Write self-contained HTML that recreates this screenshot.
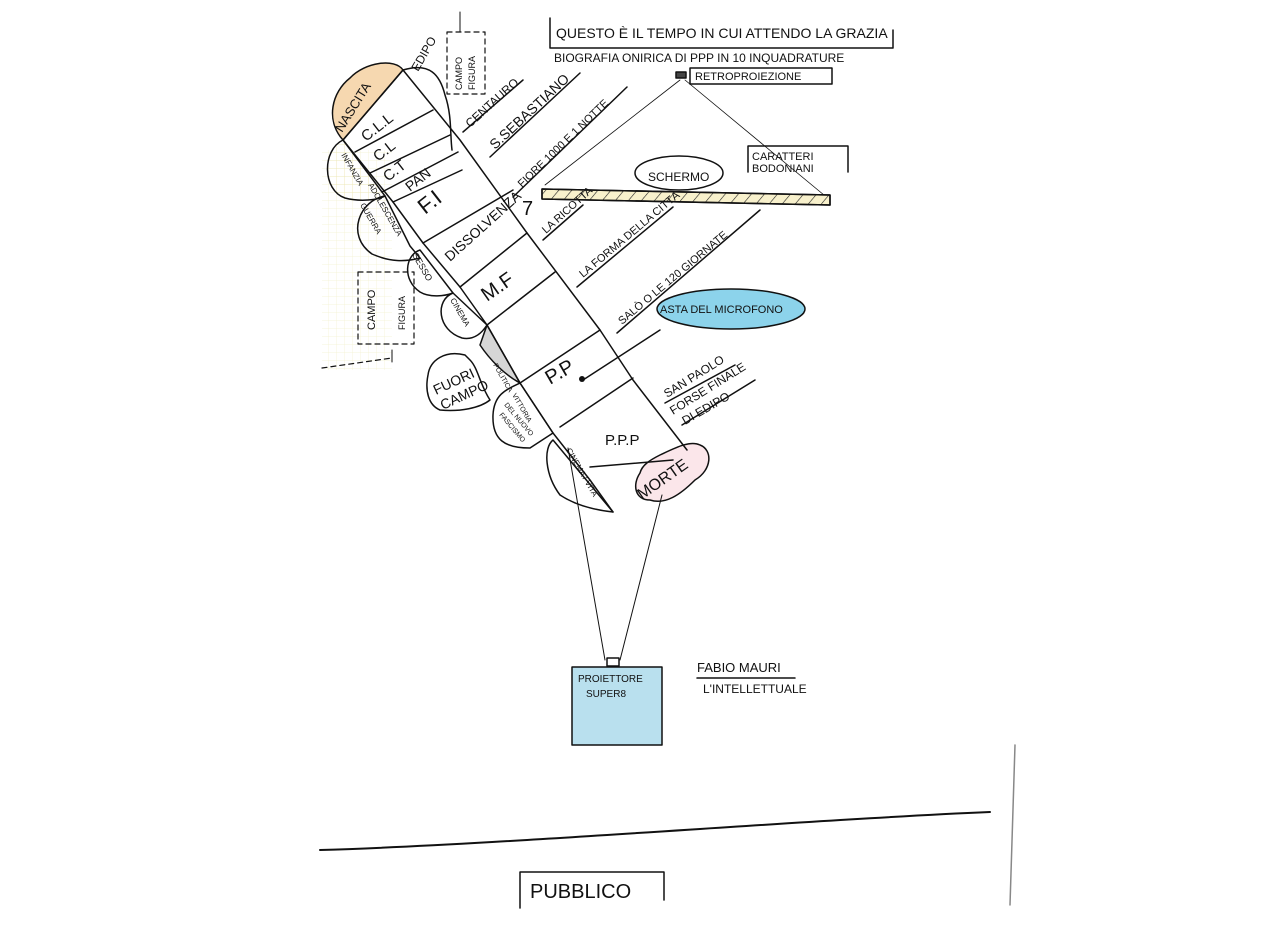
<!DOCTYPE html>
<html><head><meta charset="utf-8"><style>
html,body{margin:0;padding:0;background:#fff;}
svg{display:block}
text{font-family:"Liberation Sans",sans-serif;fill:#111;}
</style></head><body>
<svg width="1280" height="926" viewBox="0 0 1280 926" xmlns="http://www.w3.org/2000/svg">
<defs>
<pattern id="grid" width="8" height="8" patternUnits="userSpaceOnUse"><path d="M8 0H0V8" fill="none" stroke="#ece6b0" stroke-width="0.7"/></pattern>
<pattern id="hatch" width="10" height="10" patternUnits="userSpaceOnUse" patternTransform="rotate(40)"><line x1="0" y1="0" x2="0" y2="10" stroke="#222" stroke-width="1.2"/></pattern>
</defs>
<rect width="1280" height="926" fill="#fff"/>
<rect x="322" y="150" width="70" height="220" fill="url(#grid)" opacity="0.6"/>

<g fill="none" stroke="#111" stroke-width="1.5" stroke-linecap="round" stroke-linejoin="round">
<!-- title box -->
<path d="M550 18 V48 H893 V30"/>
<rect x="690" y="68" width="142" height="16"/>
<rect x="676" y="72" width="10" height="6" fill="#444"/>
<path d="M680 80 L545 185" stroke-width="0.8"/>
<path d="M685 80 L830 200" stroke-width="0.8"/>
<path d="M748 146 V172 M748 146 H848 V172"/>
<ellipse cx="679" cy="173" rx="44" ry="17"/>
<path d="M542 189 L830 195 L830 205 L542 199 Z" fill="#f8f1cc"/>
<path d="M542 189 L830 195 L830 205 L542 199 Z" fill="url(#hatch)"/>

<!-- clouds left -->
<path d="M343 140 C325 120 332 92 350 78 C365 62 395 58 403 70 Z" fill="#f2c88e" fill-opacity="0.7"/>
<path d="M343 140 C322 150 322 190 345 198 C360 202 378 200 385 196 Z" fill="url(#grid)"/>
<path d="M385 196 C360 200 345 235 372 254 C390 262 405 262 420 258 L410 246 Z"/>
<path d="M420 250 C405 255 402 280 420 292 C430 298 445 296 453 293 Z"/>
<path d="M453 293 C435 300 437 330 462 338 C472 340 480 336 487 325 Z"/>
<path d="M487 325 L520 383 C505 375 490 360 480 345 Z" fill="#333" fill-opacity="0.2"/>
<path d="M465 355 C445 350 430 360 428 375 C425 390 428 405 440 410 C460 412 480 408 490 400 C480 385 478 368 470 360 Z"/>
<path d="M520 383 C505 390 494 395 493 415 C492 440 505 448 530 448 L553 433 Z"/>
<path d="M553 440 C543 448 545 475 560 495 C575 505 595 510 613 512 Z"/>
<path d="M640 473 C632 485 635 500 650 500 C665 505 680 495 695 480 C712 470 713 450 700 445 C690 440 675 448 660 455 C650 460 642 465 640 473 Z" fill="#fbe6ea"/>
<!-- right bracket -->
<path d="M403 70 C430 62 440 75 445 95 C452 115 450 135 452 150"/>
<!-- band edges -->
<path d="M343 140 L403 70"/>
<path d="M343 140 L393 202 L423 243 L460 287 L487 325 L520 383 L553 433 L590 480 L613 512"/>
<path d="M403 70 L460 140 L527 233 L600 330 L633 380 L687 450"/>
<!-- dividers -->
<path d="M355 152 L433 110"/>
<path d="M370 173 L450 135"/>
<path d="M382 192 L458 152"/>
<path d="M393 202 L462 170"/>
<path d="M423 243 L513 190"/>
<path d="M460 287 L527 233"/>
<path d="M487 325 L555 272"/>
<path d="M520 383 L600 330"/>
<path d="M560 427 L633 378"/>
<path d="M590 467 L673 460"/>
<!-- underlines -->
<path d="M463 132 L523 80"/>
<path d="M490 157 L580 73"/>
<path d="M513 197 L627 87"/>
<path d="M543 240 L583 205"/>
<path d="M577 287 L673 207"/>
<path d="M617 333 L760 210"/>
<path d="M583 380 L660 330"/>
<path d="M665 403 L735 365"/>
<path d="M682 425 L755 380"/>
<!-- dashed campo figura boxes -->
<g stroke-dasharray="5 4" stroke-width="1.2">
<rect x="447" y="32" width="38" height="62"/>
<rect x="358" y="272" width="56" height="72"/>
<path d="M322 368 L392 358"/>
</g>
<path d="M460 12 V32 M392 350 V362" stroke-width="1"/>
<!-- cone -->
<path d="M568 448 L605 660" stroke-width="1"/>
<path d="M662 495 L620 660" stroke-width="1"/>
<rect x="607" y="658" width="12" height="8"/>
<ellipse cx="731" cy="309" rx="74" ry="20" fill="#6fc8e6" fill-opacity="0.8"/>
<rect x="572" y="667" width="90" height="78" fill="#b9e0ee"/>
<path d="M320 850 C500 845 800 820 990 812" stroke-width="2"/>
<path d="M1015 745 L1010 905" stroke-width="1.5" stroke="#888"/>
<path d="M520 872 V908 M520 872 H664 V900"/>
<path d="M697 678 H795"/>
</g>
<circle cx="582" cy="379" r="3" fill="#111"/>

<g font-size="13">
<text x="556" y="38" font-size="14">QUESTO È IL TEMPO IN CUI ATTENDO LA GRAZIA</text>
<text x="554" y="62" font-size="12">BIOGRAFIA ONIRICA DI PPP IN 10 INQUADRATURE</text>
<text x="695" y="80" font-size="11">RETROPROIEZIONE</text>
<text x="752" y="160" font-size="11">CARATTERI</text>
<text x="752" y="172" font-size="11">BODONIANI</text>
<text x="648" y="181" font-size="12">SCHERMO</text>
<text x="660" y="313" font-size="11">ASTA DEL MICROFONO</text>
<text x="697" y="672" font-size="13">FABIO MAURI</text>
<text x="703" y="693" font-size="12">L'INTELLETTUALE</text>
<text x="578" y="682" font-size="10" fill="#123">PROIETTORE</text>
<text x="586" y="697" font-size="10" fill="#123">SUPER8</text>
<text x="530" y="898" font-size="20" font-family="Liberation Mono">PUBBLICO</text>
</g>
<g font-size="12">
<text transform="translate(470,128) rotate(-42)">CENTAURO</text>
<text transform="translate(495,150) rotate(-43)" font-size="14">S.SEBASTIANO</text>
<text transform="translate(522,188) rotate(-44)" font-size="11">FIORE 1000 E 1 NOTTE</text>
<text transform="translate(546,234) rotate(-42)" font-size="11">LA RICOTTA</text>
<text transform="translate(583,278) rotate(-40)" font-size="11">LA FORMA DELLA CITTÀ</text>
<text transform="translate(622,325) rotate(-40)" font-size="11">SALÒ O LE 120 GIORNATE</text>
<text transform="translate(667,398) rotate(-32)">SAN PAOLO</text>
<text transform="translate(673,415) rotate(-32)">FORSE FINALE</text>
<text transform="translate(685,425) rotate(-30)">DI EDIPO</text>
<text transform="translate(418,72) rotate(-60)">EDIPO</text>
<text transform="translate(462,90) rotate(-90)" font-size="9">CAMPO</text>
<text transform="translate(475,90) rotate(-90)" font-size="9">FIGURA</text>
<text transform="translate(342,133) rotate(-58)" font-size="13">NASCITA</text>
<text transform="translate(366,142) rotate(-38)" font-size="15">C.L.L</text>
<text transform="translate(378,162) rotate(-38)" font-size="15">C.L</text>
<text transform="translate(388,182) rotate(-38)" font-size="15">C.T</text>
<text transform="translate(410,192) rotate(-38)" font-size="14">PAN</text>
<text transform="translate(425,215) rotate(-38)" font-size="22">F.I</text>
<text transform="translate(450,262) rotate(-42)" font-size="14">DISSOLVENZA</text>
<text transform="translate(487,302) rotate(-35)" font-size="20">M.F</text>
<text transform="translate(550,385) rotate(-30)" font-size="20">P.P</text>
<text x="605" y="445" font-size="15">P.P.P</text>
<text transform="translate(642,500) rotate(-35)" font-size="16">MORTE</text>
<text transform="translate(341,155) rotate(60)" font-size="8">INFANZIA</text>
<text transform="translate(368,185) rotate(60)" font-size="8">ADOLESCENZA</text>
<text transform="translate(360,205) rotate(60)" font-size="8">GUERRA</text>
<text transform="translate(412,255) rotate(60)" font-size="9">SESSO</text>
<text transform="translate(450,300) rotate(60)" font-size="8">CINEMA</text>
<text transform="translate(493,365) rotate(60)" font-size="7">POLITICA</text>
<text transform="translate(512,395) rotate(60)" font-size="7">VITTORIA</text>
<text transform="translate(504,405) rotate(50)" font-size="7">DEL NUOVO</text>
<text transform="translate(499,415) rotate(50)" font-size="7">FASCISMO</text>
<text transform="translate(566,450) rotate(60)" font-size="8">CINEMA / VITA</text>
<text transform="translate(436,395) rotate(-25)" font-size="14">FUORI</text>
<text transform="translate(443,410) rotate(-25)" font-size="14">CAMPO</text>
<text transform="translate(375,330) rotate(-90)" font-size="11">CAMPO</text>
<text transform="translate(405,330) rotate(-90)" font-size="9">FIGURA</text>
<text x="522" y="215" font-size="20">7</text>
</g>
</svg>
</body></html>
